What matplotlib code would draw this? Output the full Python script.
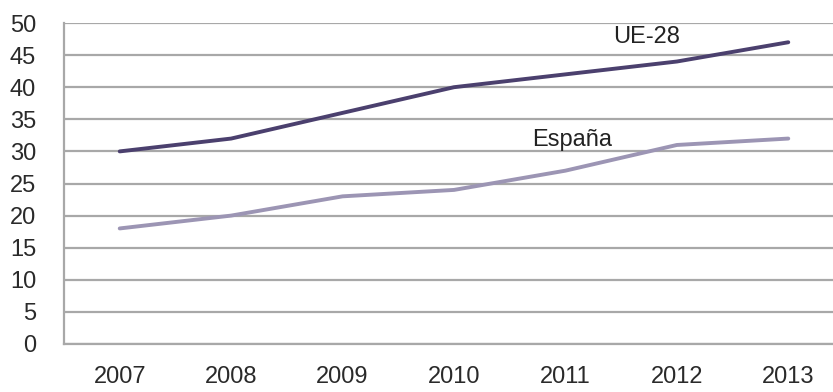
import matplotlib.pyplot as plt

years = ['2007', '2008', '2009', '2010', '2011', '2012', '2013']
ue28 = [30, 32, 36, 40, 42, 44, 47]
espana = [18, 20, 23, 24, 27, 31, 32]
yticks = [0, 5, 10, 15, 20, 25, 30, 35, 40, 45, 50]

plt.rcParams['font.family'] = ['Liberation Sans', 'DejaVu Sans']

fig = plt.figure(figsize=(8.33, 3.92), dpi=100)
# axes runs past the right edge, the original image is cropped there
ax = fig.add_axes([64 / 833, 1 - 344 / 392, 780 / 833, 321 / 392])

x = range(len(years))
ax.plot(x, ue28, color='#4b406e', linewidth=2.8, solid_capstyle='round')
ax.plot(x, espana, color='#9c95b4', linewidth=2.8, solid_capstyle='round')

ax.text(4.73, 47.8, 'UE-28', fontsize=17, color='#222222', ha='center', va='center')
ax.text(4.06, 31.8, 'España', fontsize=17, color='#222222', ha='center', va='center')

ax.set_xlim(-0.5, 6.5)
ax.set_ylim(0, 50)
ax.set_xticks(list(x))
ax.set_xticklabels(years)
ax.set_yticks(yticks)

ax.grid(axis='y', color='#a8a8a8', linewidth=1.6)
ax.set_axisbelow(True)
for side in ['top', 'right']:
    ax.spines[side].set_visible(False)
ax.spines['left'].set_color('#a8a8a8')
ax.spines['left'].set_linewidth(1.6)
ax.spines['bottom'].set_color('#a8a8a8')
ax.spines['bottom'].set_linewidth(1.6)

ax.tick_params(axis='both', length=0, labelsize=17, colors='#2a2a2a')
ax.tick_params(axis='x', pad=16)
ax.tick_params(axis='y', pad=20)

fig.savefig('out.png', dpi=100)
